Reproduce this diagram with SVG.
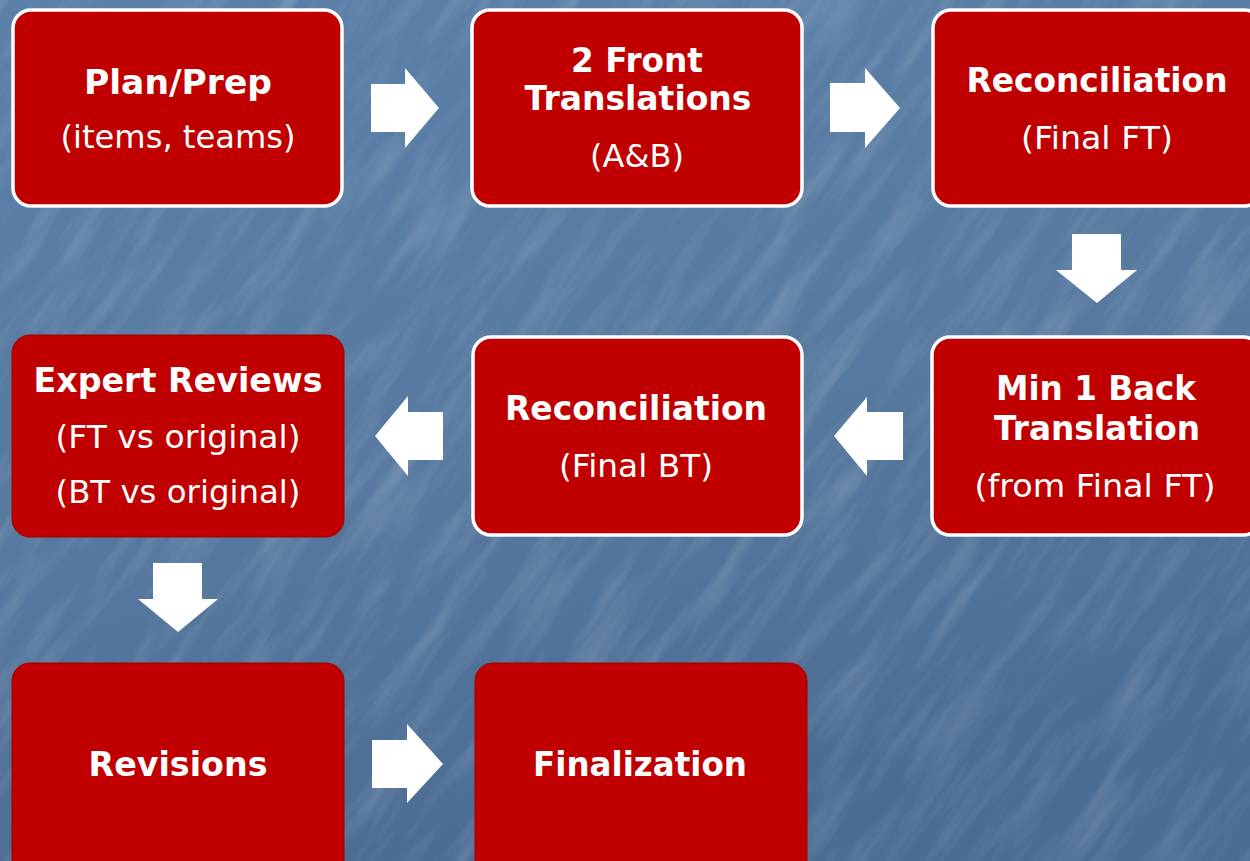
<svg xmlns="http://www.w3.org/2000/svg" width="1250" height="861" viewBox="0 0 1250 861">
<defs>
<linearGradient id="bg" x1="0" y1="0" x2="0.3" y2="1">
<stop offset="0" stop-color="#5b80a9"/>
<stop offset="0.6" stop-color="#57799f"/>
<stop offset="1" stop-color="#4b6c93"/>
</linearGradient>
<filter id="tex" x="0" y="0" width="1" height="1">
<feTurbulence type="fractalNoise" baseFrequency="0.008 0.05" numOctaves="4" seed="7"/>
<feColorMatrix values="0 0 0 0 1  0 0 0 0 1  0 0 0 0 1  1.4 0 0 0 -0.6"/>
</filter>
<style>
.box{fill:#c00000;stroke:#ffffff;stroke-width:3.5}
.boxn{fill:#c00000;stroke:#a40000;stroke-width:1}
.b{font-family:"DejaVu Sans","Liberation Sans",sans-serif;font-weight:bold;font-size:34px;fill:#ffffff;text-anchor:middle}
.r{font-family:"DejaVu Sans","Liberation Sans",sans-serif;font-size:32px;fill:#ffffff;text-anchor:middle}
.arr{fill:#ffffff}
</style>
</defs>
<rect x="0" y="0" width="1250" height="861" fill="url(#bg)"/>
<g transform="rotate(-55 625 430)" opacity="0.22">
<rect x="-500" y="-500" width="2250" height="1861" filter="url(#tex)"/>
</g>

<g id="node-plan">
<rect class="box" x="13" y="10" width="329" height="196" rx="18"/>
<text class="b" x="178" y="94" textLength="188" lengthAdjust="spacingAndGlyphs">Plan/Prep</text>
<text class="r" x="178" y="148" textLength="235" lengthAdjust="spacingAndGlyphs">(items, teams)</text>
</g>
<g id="node-front">
<rect class="box" x="472" y="10" width="330" height="196" rx="18"/>
<text class="b" x="637" y="72" textLength="132" lengthAdjust="spacingAndGlyphs">2 Front</text>
<text class="b" x="638" y="110" textLength="227" lengthAdjust="spacingAndGlyphs">Translations</text>
<text class="r" x="637" y="167" textLength="94" lengthAdjust="spacingAndGlyphs">(A&amp;B)</text>
</g>
<g id="node-recon-ft">
<rect class="box" x="933" y="10" width="329" height="196" rx="18"/>
<text class="b" x="1097" y="92" textLength="261" lengthAdjust="spacingAndGlyphs">Reconciliation</text>
<text class="r" x="1097" y="149" textLength="152" lengthAdjust="spacingAndGlyphs">(Final FT)</text>
</g>
<g id="node-back">
<rect class="box" x="932" y="337" width="329" height="198" rx="18"/>
<text class="b" x="1096" y="400" textLength="200" lengthAdjust="spacingAndGlyphs">Min 1 Back</text>
<text class="b" x="1097" y="440" textLength="206" lengthAdjust="spacingAndGlyphs">Translation</text>
<text class="r" x="1095" y="497" textLength="241" lengthAdjust="spacingAndGlyphs">(from Final FT)</text>
</g>
<g id="node-recon-bt">
<rect class="box" x="473" y="337" width="329" height="198" rx="18"/>
<text class="b" x="636" y="420" textLength="262" lengthAdjust="spacingAndGlyphs">Reconciliation</text>
<text class="r" x="636" y="477" textLength="154" lengthAdjust="spacingAndGlyphs">(Final BT)</text>
</g>
<g id="node-expert">
<rect class="boxn" x="12" y="335" width="332" height="202" rx="18"/>
<text class="b" x="178" y="392" textLength="289" lengthAdjust="spacingAndGlyphs">Expert Reviews</text>
<text class="r" x="178" y="448" textLength="245" lengthAdjust="spacingAndGlyphs">(FT vs original)</text>
<text class="r" x="178" y="503" textLength="245" lengthAdjust="spacingAndGlyphs">(BT vs original)</text>
</g>
<g id="node-revisions">
<rect class="boxn" x="12" y="663" width="332" height="215" rx="18"/>
<text class="b" x="178" y="776" textLength="179" lengthAdjust="spacingAndGlyphs">Revisions</text>
</g>
<g id="node-final">
<rect class="boxn" x="475" y="663" width="332" height="215" rx="18"/>
<text class="b" x="640" y="776" textLength="214" lengthAdjust="spacingAndGlyphs">Finalization</text>
</g>

<g id="connectors">
<polygon class="arr" points="371,84 405,84 405,68 439,108 405,148 405,132 371,132"/>
<polygon class="arr" points="830,83 865,83 865,68 900,108 865,148 865,132 830,132"/>
<polygon class="arr" points="1072,234 1121,234 1121,270 1137,270 1097,303 1056,270 1072,270"/>
<polygon class="arr" points="903,412 867,412 867,397 834,436 867,476 867,460 903,460"/>
<polygon class="arr" points="443,412 408,412 408,396 375,436 408,476 408,460 443,460"/>
<polygon class="arr" points="153,563 202,563 202,599 218,599 178,632 138,599 153,599"/>
<polygon class="arr" points="372,740 407,740 407,724 443,764 407,803 407,788 372,788"/>
</g>
</svg>
